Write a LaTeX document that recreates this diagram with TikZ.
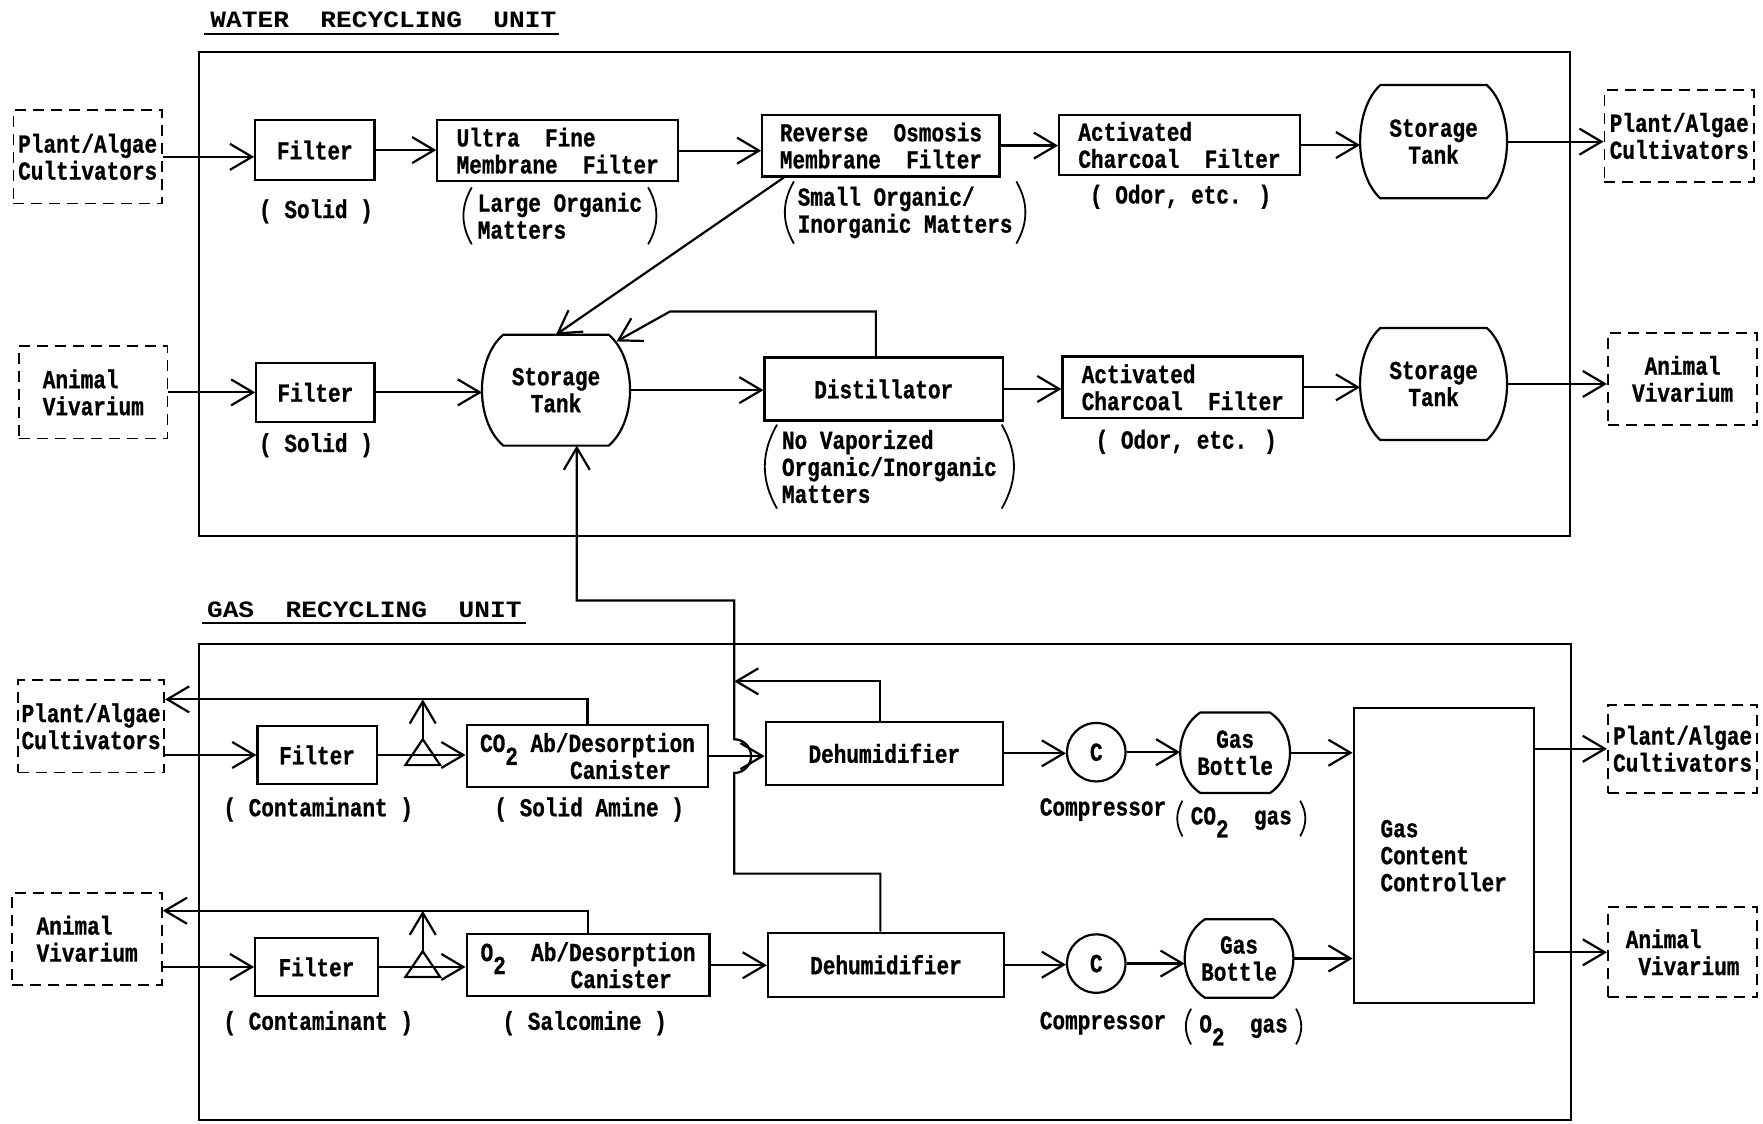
\documentclass[tikz,border=0pt]{standalone}
\usepackage{fontspec}
\newfontfamily\twf{Liberation Mono}[FakeStretch=0.81,FakeBold=0.8]
\newfontfamily\ttlf{Liberation Mono}[FakeStretch=1.12]
\usetikzlibrary{arrows.meta,calc}
\newcommand\dtxt{\twf\bfseries\fontsize{13}{13.5}\selectfont}
\newcommand\ttxt{\ttlf\bfseries\fontsize{11.7}{12}\selectfont}
\newcommand\uu{0.5622pt}
\newcommand\chs{\hspace*{6.3pt}}
\newcommand\subtwo[1]{\raisebox{-0.5em}[0pt][0pt]{#1}}
\newcommand\prn[2]{%
  \draw[pl] ($(#1.north west)+(-#2,0)$) to[bend right=30] ($(#1.south west)+(-#2,0)$);
  \draw[pl] ($(#1.north east)+(#2,0)$) to[bend left=30] ($(#1.south east)+(#2,0)$);}
\begin{document}
\begin{tikzpicture}[x=0.5622pt,y=-0.5622pt,
  ln/.style={line width=1.1pt},
  pl/.style={line width=0.9pt},
  box/.style={draw, line width=1.1pt, inner sep=0pt, font=\dtxt, align=center},
  dbox/.style={draw, line width=0.9pt, dash pattern=on 5.5pt off 3.5pt, inner sep=0pt, font=\dtxt, align=left},
  tank/.style={inner sep=0pt, font=\dtxt, align=center},
  crc/.style={draw, circle, line width=1.1pt, minimum size=52*\uu, inner sep=0pt, font=\dtxt},
  sz/.style 2 args={minimum width=#1*\uu, minimum height=#2*\uu},
  lbl/.style={inner xsep=0pt, inner ysep=2.5pt, font=\dtxt, align=left},
  ttl/.style={inner sep=1pt, font=\ttxt},
  ul/.style={line width=0.8pt},
  arr/.style={line width=1.1pt, -{Straight Barb[length=11pt,width=13pt]}}]
\useasboundingbox (0,0) rectangle (1568,999);

% ================= WATER RECYCLING UNIT =================
\draw[ln] (177,46) rectangle (1396,477);
\node[ttl] (wt) at (341,18) {WATER\ \ RECYCLING\ \ UNIT};
\draw[ul] ($(wt.south west)+(-4,3)$) -- ($(wt.south east)+(0,3)$);

\node[dbox, sz={132}{83}] (paW) at (78,139.5) {Plant/Algae\\Cultivators};
\node[box, sz={106}{53}] (f1) at (280,133.5) {Filter};
\node[box, sz={214}{54}, align=left] (uf) at (496,134) {Ultra\ \ Fine\\Membrane\ \ Filter};
\node[box, sz={211}{55}, align=left] (ro) at (783.5,129.5) {Reverse\ \ Osmosis\\Membrane\ \ Filter};
\node[box, sz={214}{54}, align=left] (acf) at (1049,129) {Activated\\Charcoal\ \ Filter};
\node[tank, sz={130}{100}] (st1) at (1275,126) {Storage\\Tank};
\node[dbox, sz={133}{82}] (paWr) at (1493.5,121) {Plant/Algae\\Cultivators};

\node[dbox, sz={132}{82}] (avW) at (83,349) {Animal\\Vivarium};
\node[box, sz={105}{52}] (f2) at (280.5,349) {Filter};
\node[tank, sz={131}{98}] (st2) at (494.5,347) {Storage\\Tank};
\node[box, sz={212}{56}] (dist) at (786,346) {Distillator};
\node[box, sz={214}{55}, align=left] (acf2) at (1052,344.5) {Activated\\Charcoal\ \ Filter};
\node[tank, sz={130}{99}] (st3) at (1275,341.5) {Storage\\Tank};
\node[dbox, sz={133}{82}] (avWr) at (1496.5,337) {\chs Animal\\Vivarium};

% labels (water)
\node[lbl] (lS1) at (281,188) {( Solid )};
\node[lbl] (lS2) at (281,396) {( Solid )};
\node[lbl] (lUF) at (498,192) {Large Organic\\Matters};
\prn{lUF}{5}
\node[lbl] (lRO) at (805,189) {Small Organic/\\Inorganic Matters};
\prn{lRO}{3}
\node[lbl] (lOd1) at (1050,175) {( Odor, etc. )};
\node[lbl] (lOd2) at (1055,393) {( Odor, etc. )};
\node[lbl] (lDi) at (791,415) {No Vaporized\\Organic/Inorganic\\Matters};
\prn{lDi}{4}

% ================= GAS RECYCLING UNIT =================
\draw[ln] (177,573) rectangle (1397,996);
\node[ttl] (gt) at (324,542) {GAS\ \ RECYCLING\ \ UNIT};
\draw[ul] ($(gt.south west)+(-2,3)$) -- ($(gt.south east)+(2,3)$);

\node[dbox, sz={130}{82}] (paG) at (81,646) {Plant/Algae\\Cultivators};
\node[box, sz={106}{51}] (f3) at (282,671.5) {Filter};
\node[box, sz={215}{55}, align=left] (co2) at (522.5,672.5) {CO\subtwo{2} Ab/Desorption\\\hspace*{45pt}Canister};
\node[box, sz={211}{56}] (d1) at (786.5,670) {Dehumidifier};
\node[crc] (c1) at (975,669) {C};
\node[tank, sz={97}{71}] (gb1) at (1098.5,669.5) {Gas\\Bottle};
\node[box, sz={160}{262}, align=left] (ctrl) at (1284,761) {Gas\\Content\\Controller};
\node[dbox, sz={133}{78}] (paGr) at (1496.5,666) {Plant/Algae\\Cultivators};

\node[dbox, sz={133}{82}] (avG) at (77.5,835) {Animal\\Vivarium};
\node[box, sz={109}{52}] (f4) at (281.5,860) {Filter};
\node[box, sz={216}{55}, align=left] (o2) at (523,858.5) {O\subtwo{2}\ \ Ab/Desorption\\\hspace*{45pt}Canister};
\node[box, sz={210}{57}] (d2) at (788,858) {Dehumidifier};
\node[crc] (c2) at (975,857) {C};
\node[tank, sz={96}{69}] (gb2) at (1102,852.5) {Gas\\Bottle};
\node[dbox, sz={133}{80}] (avGr) at (1496.5,847) {Animal\\\chs Vivarium};

% labels (gas)
\node[lbl] (lC1) at (283,720) {( Contaminant )};
\node[lbl] (lC2) at (283,910) {( Contaminant )};
\node[lbl] (lAm) at (524,720) {( Solid Amine )};
\node[lbl] (lSa) at (520,910) {( Salcomine )};
\node[lbl] (lP1) at (981,720) {Compressor};
\node[lbl] (lP2) at (981,910) {Compressor};
\node[lbl, inner ysep=3pt] (lG1) at (1104,728) {CO\subtwo{2}\ \ gas};
\prn{lG1}{7}
\node[lbl, inner ysep=3pt] (lG2) at (1106,913) {O\subtwo{2}\ \ gas};
\prn{lG2}{7}

% tank shapes
\foreach \n/\d/\h in {st1/18/100, st2/19/98, st3/18/99, gb1/18/71, gb2/18/69}{
  \draw[ln] ($(\n.north west)+(\d,0)$) -- ($(\n.north east)+(-\d,0)$)
    .. controls +({4*\d/3},{0.22*\h}) and +({4*\d/3},{-0.22*\h}) .. ($(\n.south east)+(-\d,0)$)
    -- ($(\n.south west)+(\d,0)$)
    .. controls +({-4*\d/3},{-0.22*\h}) and +({-4*\d/3},{0.22*\h}) .. ($(\n.north west)+(\d,0)$) -- cycle;
}

% ================= connectors: water =================
\draw[arr] (paW.east) -- (paW.east -| f1.west);
\draw[arr] (f1.east) -- (f1.east -| uf.west);
\draw[arr] (uf.east) -- (uf.east -| ro.west);
\draw[arr] (ro.east) -- (ro.east -| acf.west);
\draw[arr] (acf.east) -- (acf.east -| st1.west);
\draw[arr] (st1.east) -- (st1.east -| paWr.west);
\draw[arr] ($(ro.south west)+(20,0)$) -- (st2.north);

\draw[arr] (avW.east) -- (avW.east -| f2.west);
\draw[arr] (f2.east) -- (f2.east -| st2.west);
\draw[arr] (st2.east) -- (st2.east -| dist.west);
\draw[arr] (dist.east) -- (dist.east -| acf2.west);
\draw[arr] (acf2.east) -- (acf2.east -| st3.west);
\draw[arr] (st3.east) -- (st3.east -| avWr.west);
\coordinate (j4) at (596,277);
\draw[arr] ($(dist.north)+(-7,0)$) |- (j4) -- ($(st2.north east)+(-12,6)$);

% ================= connectors: gas =================
\coordinate (r1) at (376,622);
\coordinate (t1) at (r1 |- f3.east);
\coordinate (r2) at (376,810);
\coordinate (t2) at (r2 |- f4.east);

\draw[arr] (paG.east |- f3.west) -- (f3.west);
\draw[arr] (f3.east) -- (f3.east -| co2.west);
\draw[ln] ($(t1)+(0,-14)$) -- ($(t1)+(-15.5,9)$) -- ($(t1)+(15.5,9)$) -- cycle;
\draw[arr] ($(t1)+(0,-14)$) -- (r1);
\draw[arr] (co2.north) |- (r1) -- (paG.east |- r1);
\draw[arr] (co2.east) -- (co2.east -| d1.west);
\draw[arr] (d1.east) -- (d1.east -| c1.west);
\draw[arr] (c1.east) -- (c1.east -| gb1.west);
\draw[arr] (gb1.east) -- (gb1.east -| ctrl.west);
\draw[arr] (ctrl.east |- paGr.west) -- (paGr.west);

\draw[arr] (avG.east |- f4.west) -- (f4.west);
\draw[arr] (f4.east) -- (f4.east -| o2.west);
\draw[ln] ($(t2)+(0,-14)$) -- ($(t2)+(-15.5,9)$) -- ($(t2)+(15.5,9)$) -- cycle;
\draw[arr] ($(t2)+(0,-14)$) -- (r2);
\draw[arr] (o2.north) |- (r2) -- (avG.east |- r2);
\draw[arr] (o2.east) -- (o2.east -| d2.west);
\draw[arr] (d2.east) -- (d2.east -| c2.west);
\draw[arr] (c2.east) -- (c2.east -| gb2.west);
\draw[arr] (gb2.east) -- (gb2.east -| ctrl.west);
\draw[arr] (ctrl.east |- avGr.west) -- (avGr.west);

% return from dehumidifiers to storage tank
\coordinate (j1) at (653,534);
\coordinate (j2) at (653,777);
\coordinate (j3) at (653,606);
\coordinate (hop) at (j1 |- co2.east);
\draw[arr] ($(d2.north)+(-5,0)$) |- (j2) -- ($(hop)+(0,15)$)
  arc[start angle=90,end angle=-90,radius=15] -- (j1) -| ($(st2.south)+(18.5,0)$);
\draw[arr] ($(d1.north)+(-4,0)$) |- (j3);
\end{tikzpicture}
\end{document}
